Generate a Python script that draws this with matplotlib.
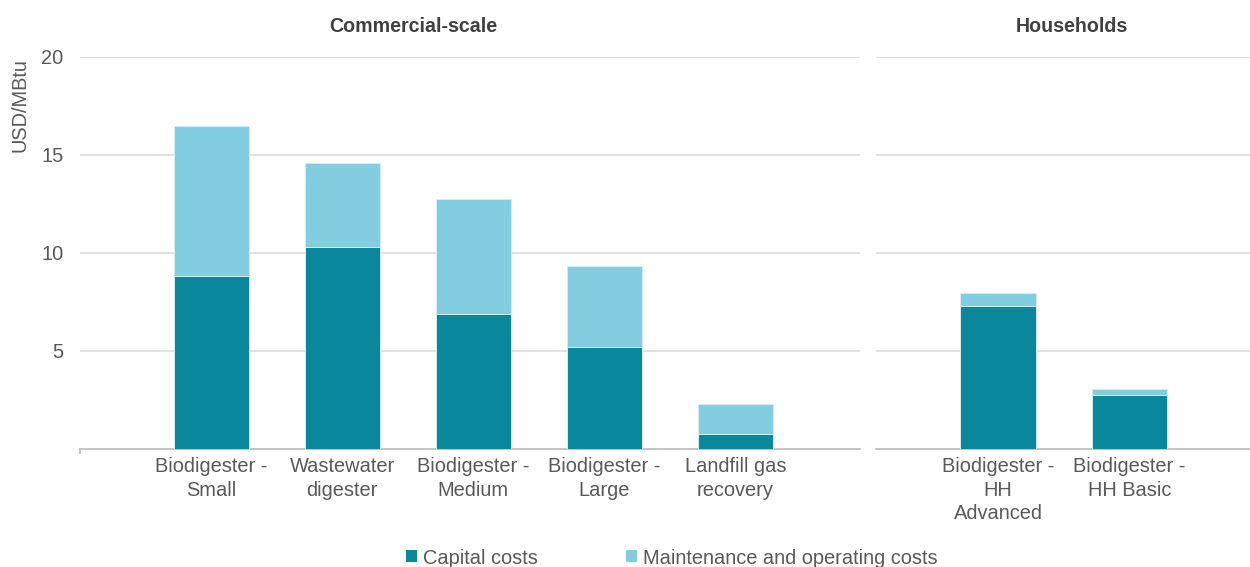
import numpy as np
import matplotlib
matplotlib.use("Agg")
import matplotlib.pyplot as plt
from matplotlib.patches import Patch

plt.rcParams['font.family'] = ['Liberation Sans', 'DejaVu Sans']

# levelised cost of biogas, USD/MBtu
commercial = ["Biodigester -\nSmall", "Wastewater\ndigester", "Biodigester -\nMedium",
              "Biodigester -\nLarge", "Landfill gas\nrecovery"]
commercial_capital = [8.83, 10.29, 6.89, 5.21, 0.77]
commercial_om = [7.64, 4.31, 5.89, 4.14, 1.53]

households = ["Biodigester -\nHH\nAdvanced", "Biodigester -\nHH Basic"]
households_capital = [7.31, 2.73]
households_om = [0.65, 0.34]

CAP = '#0A879B'
OM = '#82CDE0'
GRID = '#D9D9D9'
AXIS = '#BFBFBF'
TXT = '#595959'
FS = 14.4

W, H = 1250, 567
fig = plt.figure(figsize=(W / 100, H / 100), dpi=100)

def px_box(x0, x1, ytop, ybot):
    return [x0 / W, 1 - ybot / H, (x1 - x0) / W, (ybot - ytop) / H]

ax1 = fig.add_axes(px_box(80, 860, 57, 449))
ax2 = fig.add_axes(px_box(876, 1250, 57, 449))

def draw(ax, pos, labels, cap, om):
    cap = np.asarray(cap)
    om = np.asarray(om)
    ax.bar(pos, cap, width=0.573, color=CAP, edgecolor='#D6EEF3', linewidth=0.7, zorder=3)
    ax.bar(pos, om, bottom=cap, width=0.573, color=OM, edgecolor='#D6EEF3', linewidth=0.7, zorder=3)
    ax.set_ylim(0, 20)
    ax.set_yticks([5, 10, 15, 20])
    ax.yaxis.grid(True, color=GRID, linewidth=1.1, zorder=0)
    ax.set_xticks(pos)
    ax.set_xticklabels(labels, fontsize=FS, color=TXT, linespacing=1.3)
    ax.tick_params(axis='x', length=0, pad=6)
    ax.tick_params(axis='y', length=0, pad=12, labelsize=FS, labelcolor=TXT)
    for s in ['top', 'right', 'left']:
        ax.spines[s].set_visible(False)
    ax.spines['bottom'].set_color(AXIS)
    ax.spines['bottom'].set_linewidth(1.3)

pos1 = np.arange(1, len(commercial) + 1)
pos2 = np.arange(7, 7 + len(households))
draw(ax1, pos1, commercial, commercial_capital, commercial_om)
draw(ax2, pos2, households, households_capital, households_om)
ax1.set_xlim(0, 5.95)
ax2.set_xlim(6.07, 8.92)
ax2.set_yticklabels([])

# small tick at the start of the category axis
ax1.plot([0, 0], [0, -0.22], color=AXIS, linewidth=1.3, clip_on=False)

fig.text(20 / W, 1 - 58 / H, "USD/MBtu", rotation=90, ha='center', va='top',
         fontsize=FS, color=TXT)
fig.text(413 / W, 1 - 27 / H, "Commercial-scale", ha='center', va='center',
         fontsize=14.1, fontweight='bold', color='#404040')
fig.text(1072 / W, 1 - 27 / H, "Households", ha='center', va='center',
         fontsize=14.1, fontweight='bold', color='#404040')

handles = [Patch(facecolor=CAP), Patch(facecolor=OM)]
fig.legend(handles, ["Capital costs", "Maintenance and operating costs"],
           loc='center', bbox_to_anchor=(672 / W, 1 - 558 / H), ncol=2,
           frameon=False, fontsize=FS, labelcolor=TXT,
           handlelength=0.55, handleheight=0.55, handletextpad=0.3,
           columnspacing=4.4)

fig.savefig("out.png", dpi=100)
